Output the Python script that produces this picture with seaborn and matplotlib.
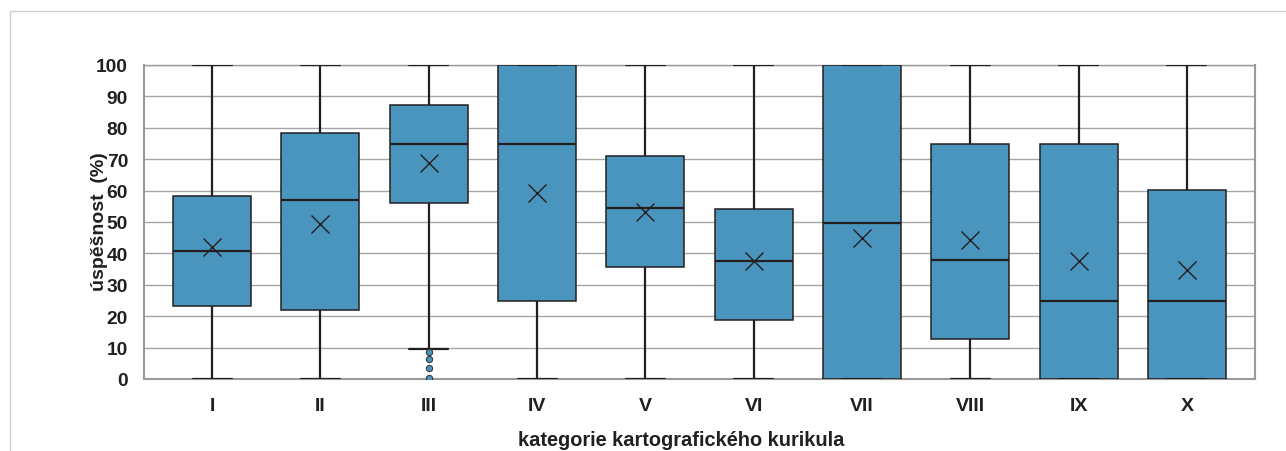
import numpy as np
import pandas as pd
import matplotlib
matplotlib.use("Agg")
import matplotlib.pyplot as plt
import seaborn as sns
from matplotlib.patches import Rectangle

# ---- data ----
categories = ["I", "II", "III", "IV", "V", "VI", "VII", "VIII", "IX", "X"]
whisker_low = [0, 0, 9.6, 0, 0, 0, 0, 0, 0, 0]
q1 = [23.2, 22.0, 56.0, 25.0, 35.7, 18.8, 0.0, 12.8, 0.0, 0.0]
median = [40.8, 57.0, 74.8, 75.0, 54.5, 37.6, 49.7, 37.9, 24.8, 25.0]
q3 = [58.2, 78.2, 87.3, 100.0, 71.0, 54.0, 100.0, 75.0, 75.0, 60.2]
whisker_high = [100, 100, 100, 100, 100, 100, 100, 100, 100, 100]
means = [42.0, 49.3, 68.8, 59.2, 53.2, 37.6, 45.0, 44.2, 37.6, 34.7]
outliers = {"III": [8.5, 6.5, 3.5, 0.2]}

# rebuild samples that reproduce the five-number summaries
N = 50
rows = []
for i, c in enumerate(categories):
    vals = list(outliers.get(c, [])) + [whisker_low[i]] + [q1[i]] * N + \
        [median[i]] * N + [q3[i]] * N + [whisker_high[i]]
    rows += [(c, v) for v in vals]
df = pd.DataFrame(rows, columns=["kategorie", "uspesnost"])
df_mean = pd.DataFrame({"kategorie": categories, "mean": means})

BOX = "#4A95BE"
DARK = "#231F20"
GRID = "#A6A6A6"

sns.set_theme(style="white")
plt.rcParams["font.family"] = ["Liberation Sans", "DejaVu Sans"]

fig = plt.figure(figsize=(12.86, 4.52), dpi=100)
ax = fig.add_axes([144 / 1286, 1 - 380 / 452, (1255 - 144) / 1286, (380 - 66) / 452])

sns.boxplot(
    data=df, x="kategorie", y="uspesnost", order=categories, ax=ax,
    color=BOX, saturation=1, width=0.72, whis=1.5,
    linecolor=DARK, linewidth=1.4,
    boxprops=dict(edgecolor=DARK, linewidth=1.1),
    medianprops=dict(color=DARK, linewidth=1.6),
    whiskerprops=dict(color=DARK, linewidth=1.6),
    capprops=dict(color=DARK, linewidth=1.6),
    flierprops=dict(marker="o", markersize=4.5, markerfacecolor=BOX,
                    markeredgecolor="#3A3A3A", markeredgewidth=0.8),
    zorder=3,
)
sns.pointplot(
    data=df_mean, x="kategorie", y="mean", order=categories, ax=ax,
    linestyle="none", marker="x", color=DARK, markersize=13,
    markeredgewidth=1.0, errorbar=None, zorder=5,
)

ax.set_xlim(-0.628, 9.628)
ax.set_ylim(0, 100)
ax.set_yticks(np.arange(0, 101, 10))
ax.yaxis.grid(True, color=GRID, linewidth=1.0, zorder=0)
ax.xaxis.grid(False)
ax.set_axisbelow(True)
for side, sp in ax.spines.items():
    sp.set_visible(True)
    sp.set_color("#9A9A9A")
    sp.set_linewidth(1.5 if side in ("left", "bottom", "right") else 1.0)
ax.tick_params(axis="both", length=0)
ax.tick_params(axis="y", pad=11.5, labelsize=13.8)
ax.tick_params(axis="x", pad=13, labelsize=14)
for lab in ax.get_xticklabels() + ax.get_yticklabels():
    lab.set_fontweight("bold")
    lab.set_color("#231F20")
ax.set_xlabel("")
ax.set_ylabel("")

fig.text(100 / 1286, 1 - 222 / 452, "úspěšnost  (%)", rotation=90,
         ha="center", va="center", fontsize=14, fontweight="bold",
         color="#231F20")
fig.text(681 / 1286, 1 - 446 / 452, "kategorie kartografického kurikula",
         ha="center", va="baseline", fontsize=14.4, fontweight="bold",
         color="#231F20")

fig.add_artist(Rectangle((10 / 1286, -0.2), 1.2, 1 - 12 / 452 + 0.2,
                         transform=fig.transFigure, fill=False,
                         edgecolor="#CFCFCF", linewidth=1.0))

fig.savefig("out.png", dpi=100)
